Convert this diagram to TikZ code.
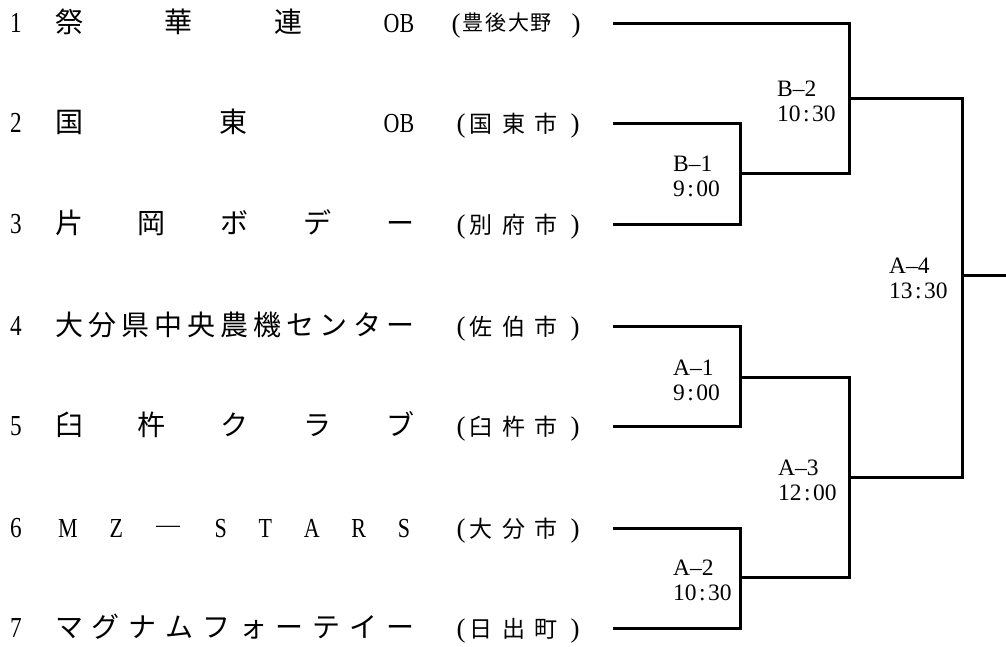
\documentclass[tikz,border=0pt]{standalone}
\usepackage{fontspec}
\setmainfont{Liberation Serif}
\newfontfamily\jp{Noto Sans CJK JP}
\newfontfamily\cond[FakeStretch=0.8]{Liberation Serif}
\newcommand\lat{\cond\fontsize{27.5}{27.5}\selectfont}
\newcommand\clk[2]{#1\kern2.5pt:\kern2.5pt#2}
\begin{document}
\begin{tikzpicture}[x=1pt,y=-1pt,
  wire/.style={line width=3pt},
  num/.style={anchor=base, inner sep=0pt, font=\cond\fontsize{29}{29}\selectfont},
  team/.style={anchor=base west, inner sep=0pt, font=\jp\fontsize{28}{28}\selectfont},
  paren/.style={anchor=base, inner sep=0pt, font=\fontsize{27}{27}\selectfont},
  town/.style={anchor=base west, inner sep=0pt, font=\jp\fontsize{23}{23}\selectfont},
  townsmall/.style={anchor=base west, inner sep=0pt, font=\jp\fontsize{21}{21}\selectfont},
  lbl/.style={anchor=base west, inner sep=0pt, font=\fontsize{23.5}{23.5}\selectfont}]
\path[use as bounding box] (0,0) rectangle (1006,646);

% row numbers
\foreach \i/\y in {1/23,2/123,3/224,4/326,5/426,6/528,7/628}
  \node[num] (num\i) at (16,\y+9.5) {\i};

% team names
\node[team] (name1) at (55,32.5) {\makebox[359pt][s]{祭\hfil 華\hfil 連\hfil{\lat OB}}};
\node[team] (name2) at (55,132.5) {\makebox[359pt][s]{国\hfil 東\hfil{\lat OB}}};
\node[team] (name3) at (55,233.5) {\makebox[359pt][s]{片\hfil 岡\hfil ボ\hfil デ\hfil ー}};
\node[team] (name4) at (55,335.5) {\makebox[359pt][s]{大\hfil 分\hfil 県\hfil 中\hfil 央\hfil 農\hfil 機\hfil セ\hfil ン\hfil タ\hfil ー}};
\node[team] (name5) at (55,435.5) {\makebox[359pt][s]{臼\hfil 杵\hfil ク\hfil ラ\hfil ブ}};
\node[team] (name6) at (58,537.5) {\makebox[352pt][s]{{\lat M}\hfil{\lat Z}\hfil ―\hfil{\lat S}\hfil{\lat T}\hfil{\lat A}\hfil{\lat R}\hfil{\lat S}}};
\node[team] (name7) at (55,637.5) {\makebox[359pt][s]{マ\hfil グ\hfil ナ\hfil ム\hfil フ\hfil ォ\hfil ー\hfil テ\hfil イ\hfil ー}};

% towns
\node[paren] (po1) at (456,32) {(};
\node[townsmall] (tn1) at (462.5,30.5) {\makebox[89pt][s]{豊\hfil 後\hfil 大\hfil 野}};
\node[paren] (pc1) at (576,32) {)};
\foreach \i/\y/\t in {2/123/{国\hfil 東\hfil 市},3/224/{別\hfil 府\hfil 市},4/326/{佐\hfil 伯\hfil 市},5/426/{臼\hfil 杵\hfil 市},6/528/{大\hfil 分\hfil 市},7/628/{日\hfil 出\hfil 町}}{
  \node[paren] (po\i) at (461,\y+9) {(};
  \node[town] (tn\i) at (469.5,\y+9.5) {\makebox[88pt][s]{\t}};
  \node[paren] (pc\i) at (575,\y+9) {)};
}

% bracket points
\coordinate (t1) at (613,23);
\coordinate (t2) at (613,123);
\coordinate (t3) at (613,224);
\coordinate (t4) at (613,326);
\coordinate (t5) at (613,426);
\coordinate (t6) at (613,528);
\coordinate (t7) at (613,628);
\coordinate (b1) at (740,173);
\coordinate (b2) at (849,98);
\coordinate (a1) at (740,377);
\coordinate (a2) at (740,577);
\coordinate (a3) at (849,477);
\coordinate (a4) at (962,275);
\coordinate (fin) at (1006,275);

\draw[wire] (t2) -| (b1) |- (t3);
\draw[wire] (t1) -| (b2) |- (b1);
\draw[wire] (t4) -| (a1) |- (t5);
\draw[wire] (t6) -| (a2) |- (t7);
\draw[wire] (a1) -| (a3) |- (a2);
\draw[wire] (b2) -| (a4) |- (a3);
\draw[wire] (a4) -- (fin);

% match labels
\node[lbl] (lb1a) at (673,171.5) {B–1};
\node[lbl] (lb1b) at (673,196) {\clk{9}{00}};
\node[lbl] (lb2a) at (777,96.5) {B–2};
\node[lbl] (lb2b) at (777,121) {\clk{10}{30}};
\node[lbl] (la1a) at (673,375.5) {A–1};
\node[lbl] (la1b) at (673,400) {\clk{9}{00}};
\node[lbl] (la2a) at (673,575.5) {A–2};
\node[lbl] (la2b) at (673,600) {\clk{10}{30}};
\node[lbl] (la3a) at (778,475.5) {A–3};
\node[lbl] (la3b) at (778,500) {\clk{12}{00}};
\node[lbl] (la4a) at (889,273.5) {A–4};
\node[lbl] (la4b) at (889,298) {\clk{13}{30}};
\end{tikzpicture}
\end{document}
